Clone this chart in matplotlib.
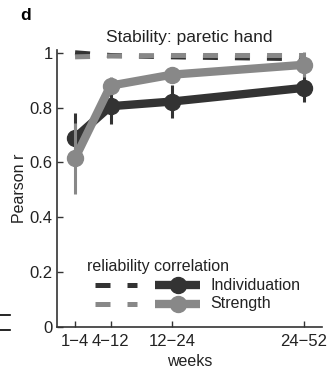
import matplotlib
matplotlib.use('Agg')
import matplotlib.pyplot as plt
from matplotlib.lines import Line2D

plt.rcParams['font.family'] = ['Liberation Sans', 'DejaVu Sans']

# bins (weeks) and where they sit on the x axis
bins = ['1\u22124', '4\u221212', '12\u221224', '24\u221252']
xpos = [2.5, 8, 17.5, 38]

indiv_r = [0.69, 0.805, 0.822, 0.872]
indiv_err = [0.09, 0.065, 0.06, 0.05]
strength_r = [0.615, 0.88, 0.92, 0.956]
strength_err = [0.13, 0.03, 0.02, 0.045]

indiv_rel = [1.0, 0.99, 0.985, 0.978]
strength_rel = [0.985, 0.988, 0.99, 0.99]

dark = '#333333'
gray = '#888888'

fig = plt.figure(figsize=(3.29, 3.69), dpi=100)
ax = fig.add_axes([57/329, 1 - 327/369, (322-57)/329, (327-50)/369])

# reliability (dashed)
ax.plot(xpos, indiv_rel, color=dark, lw=3.6, dashes=(3, 3.4), solid_capstyle='butt')
ax.plot(xpos, strength_rel, color=gray, lw=3.6, dashes=(3, 3.4), solid_capstyle='butt')

# correlation with error bars
ax.errorbar(xpos, indiv_r, yerr=indiv_err, color=dark, lw=6, marker='o', ms=11.5,
            elinewidth=2.2, capsize=0, zorder=3)
ax.errorbar(xpos, strength_r, yerr=strength_err, color=gray, lw=6, marker='o', ms=11.5,
            elinewidth=2.2, capsize=0, zorder=4)

ax.set_xlim(-0.3, 40.8)
ax.set_ylim(0, 1.01)
ax.set_xticks(xpos)
ax.set_xticklabels(bins)
ax.set_yticks([0, 0.2, 0.4, 0.6, 0.8, 1])
ax.set_yticklabels(['0', '0.2', '0.4', '0.6', '0.8', '1'])
for s in ['top', 'right']:
    ax.spines[s].set_visible(False)
for s in ['left', 'bottom']:
    ax.spines[s].set_color('#333333')
    ax.spines[s].set_linewidth(1.2)
ax.tick_params(direction='in', length=4, width=1, color='#333333',
               labelsize=12, labelcolor='#222222', pad=3)
ax.tick_params(axis='x', pad=5)

ax.set_xlabel('weeks', fontsize=11.5, color='#222222', labelpad=4)
ax.set_ylabel('Pearson r', fontsize=11.5, color='#222222', labelpad=2)
ax.set_title('Stability: paretic hand', fontsize=12.5, color='#222222', pad=6)
fig.text(20/329, 1 - 15/369, 'd', fontsize=12.5, fontweight='bold', va='center')

# legend drawn by hand in axes coords
tr = ax.transAxes
def axx(px):
    return (px - 57) / (322 - 57)
def axy(py):
    return (327 - py) / (327 - 50)

ax.text(axx(87), axy(267), 'reliability correlation', transform=tr,
        fontsize=11.5, color='#222222', va='center', ha='left')
for row, (col, lab) in enumerate([(dark, 'Individuation'), (gray, 'Strength')]):
    yy = axy(285 + row * 18.5)
    ax.add_line(Line2D([axx(95), axx(110)], [yy, yy], transform=tr, color=col,
                       lw=3.6, solid_capstyle='butt'))
    ax.add_line(Line2D([axx(127), axx(137)], [yy, yy], transform=tr, color=col,
                       lw=3.6, solid_capstyle='butt'))
    ax.add_line(Line2D([axx(155), axx(200)], [yy, yy], transform=tr, color=col,
                       lw=6, solid_capstyle='butt'))
    ax.add_line(Line2D([axx(178)], [yy], transform=tr, color=col, marker='o', ms=11.5))
    ax.text(axx(210), yy, lab, transform=tr, fontsize=11.5, color='#222222',
            va='center', ha='left')

# edge of the neighbouring panel
for py in [315, 330]:
    fig.add_artist(Line2D([0, 10/329], [1 - py/369, 1 - py/369], color='black', lw=1.2))

fig.savefig('out.png', dpi=100)
